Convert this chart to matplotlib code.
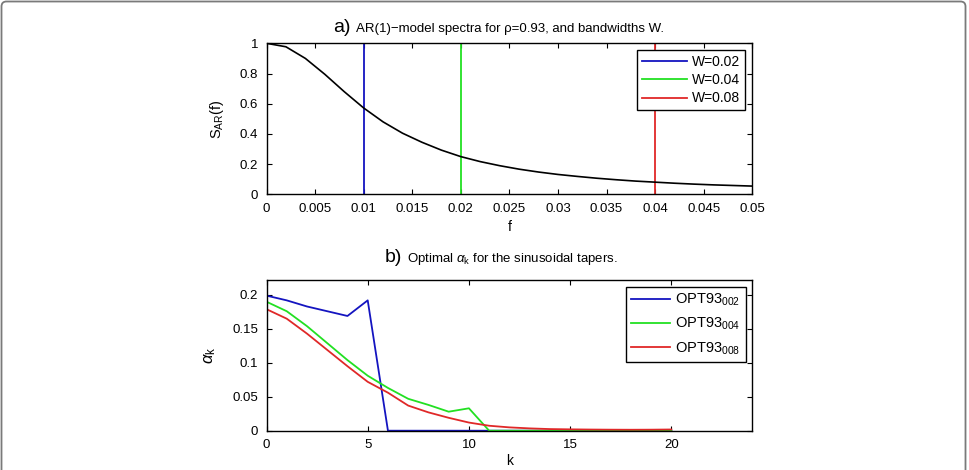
import matplotlib
matplotlib.use("Agg")
import matplotlib.pyplot as plt
from matplotlib.patches import FancyBboxPatch

plt.rcParams['font.family'] = ['Liberation Sans', 'DejaVu Sans']
plt.rcParams['mathtext.fontset'] = 'custom'
plt.rcParams['mathtext.rm'] = 'Liberation Sans'
plt.rcParams['mathtext.it'] = 'Liberation Sans:italic'
plt.rcParams['mathtext.sf'] = 'Liberation Sans'

# ---------------- data ----------------
f_vals = [0.000, 0.002, 0.004, 0.006, 0.008, 0.010, 0.012, 0.014, 0.016, 0.018,
          0.020, 0.022, 0.024, 0.026, 0.028, 0.030, 0.032, 0.034, 0.036, 0.038,
          0.040, 0.042, 0.044, 0.046, 0.048, 0.050]
s_ar = [1.000, 0.977, 0.900, 0.795, 0.680, 0.572, 0.480, 0.405, 0.345, 0.293,
        0.250, 0.217, 0.190, 0.167, 0.148, 0.132, 0.119, 0.107, 0.097, 0.088,
        0.081, 0.074, 0.068, 0.063, 0.059, 0.055]
bw_labels = ['W=0.02', 'W=0.04', 'W=0.08']
bw_lines = [0.01, 0.02, 0.04]

k_vals = list(range(21))
opt002 = [0.199, 0.192, 0.183, 0.176, 0.169, 0.192, 0, 0, 0, 0, 0,
          0, 0, 0, 0, 0, 0, 0, 0, 0, 0]
opt004 = [0.190, 0.176, 0.154, 0.129, 0.104, 0.081, 0.063, 0.047, 0.038, 0.028, 0.033,
          0, 0, 0, 0, 0, 0, 0, 0, 0, 0]
opt008 = [0.179, 0.165, 0.143, 0.119, 0.095, 0.072, 0.056, 0.037, 0.027, 0.019, 0.012,
          0.0073, 0.0049, 0.0034, 0.0024, 0.0020, 0.0017, 0.0015, 0.0014, 0.0015, 0.0018]
opt_labels = [r'OPT93$_{\mathrm{002}}$', r'OPT93$_{\mathrm{004}}$', r'OPT93$_{\mathrm{008}}$']

colors = ['#1414c0', '#22e022', '#e02828']

# ---------------- figure ----------------
W, H = 970, 470
fig = plt.figure(figsize=(9.7, 4.7), dpi=100)

# outer gray frame (open at bottom)
frame = FancyBboxPatch((0.015, -0.3), 9.64, 4.685 + 0.3,
                       boxstyle="round,pad=0,rounding_size=0.05",
                       transform=fig.dpi_scale_trans, facecolor='none',
                       edgecolor='#7a7a7a', linewidth=1.3, clip_on=False)
fig.patches.append(frame)

def px_axes(x0, y0, x1, y1):
    return fig.add_axes([x0 / W, 1 - y1 / H, (x1 - x0) / W, (y1 - y0) / H])

tick_fs = 9.5

def style(ax):
    ax.tick_params(direction='in', length=3.8, width=0.8, top=True, right=True,
                   labelsize=tick_fs, pad=6)
    for s in ax.spines.values():
        s.set_linewidth(1.0)

# ---- panel a ----
ax1 = px_axes(266.5, 43.3, 752.3, 194.4)
lines_a = []
for x, c, lab in zip(bw_lines, colors, bw_labels):
    ln, = ax1.plot([x, x], [0, 1], color=c, lw=1.3, label=lab)
    lines_a.append(ln)
ax1.plot(f_vals, s_ar, color='black', lw=1.2)
ax1.set_xlim(0, 0.05)
ax1.set_ylim(0, 1)
ax1.set_xticks([0, 0.005, 0.01, 0.015, 0.02, 0.025, 0.03, 0.035, 0.04, 0.045, 0.05])
ax1.set_xticklabels(['0', '0.005', '0.01', '0.015', '0.02', '0.025', '0.03',
                     '0.035', '0.04', '0.045', '0.05'])
ax1.set_yticks([0, 0.2, 0.4, 0.6, 0.8, 1])
ax1.set_yticklabels(['0', '0.2', '0.4', '0.6', '0.8', '1'])
style(ax1)
ax1.set_xlabel('f', fontsize=10, labelpad=4)
ax1.set_ylabel(r'S$_{\mathrm{AR}}$(f)', fontsize=10.5, labelpad=10)
leg1 = ax1.legend(handles=lines_a, loc='upper right', fontsize=10, fancybox=False,
                  edgecolor='black', framealpha=1, handlelength=3.2,
                  handletextpad=0.4, borderaxespad=0.5, labelspacing=0.3,
                  borderpad=0.35)
leg1.get_frame().set_linewidth(1.0)

# ---- panel b ----
ax2 = px_axes(266.5, 280.0, 752.3, 430.7)
for y, c, lab in zip([opt002, opt004, opt008], colors, opt_labels):
    ax2.plot(k_vals, y, color=c, lw=1.3, label=lab)
ax2.set_xlim(0, 24)
ax2.set_ylim(0, 0.222)
ax2.set_xticks([0, 5, 10, 15, 20])
ax2.set_yticks([0, 0.05, 0.1, 0.15, 0.2])
ax2.set_yticklabels(['0', '0.05', '0.1', '0.15', '0.2'])
style(ax2)
ax2.set_xlabel('k', fontsize=10, labelpad=2)
ax2.set_ylabel(r'$\alpha_{\mathrm{k}}$', fontsize=12, labelpad=10)
leg2 = ax2.legend(loc='upper right', fontsize=10.5, fancybox=False,
                  edgecolor='black', framealpha=1, handlelength=2.7,
                  handletextpad=0.35, borderaxespad=0.45, labelspacing=0.55,
                  borderpad=0.35)
leg2.get_frame().set_linewidth(1.0)

# ---- titles ----
fig.text(333 / W, 1 - 32 / H, 'a)', fontsize=14, ha='left', va='baseline')
fig.text(356 / W, 1 - 32 / H, 'AR(1)\u2212model spectra for \u03c1=0.93, and bandwidths W.',
         fontsize=9.5, ha='left', va='baseline')
fig.text(385 / W, 1 - 262 / H, 'b)', fontsize=14, ha='left', va='baseline')
fig.text(407.5 / W, 1 - 262 / H, r'Optimal $\alpha_{\mathrm{k}}$ for the sinusoidal tapers.',
         fontsize=9.5, ha='left', va='baseline')

fig.savefig('out.png', dpi=100)
